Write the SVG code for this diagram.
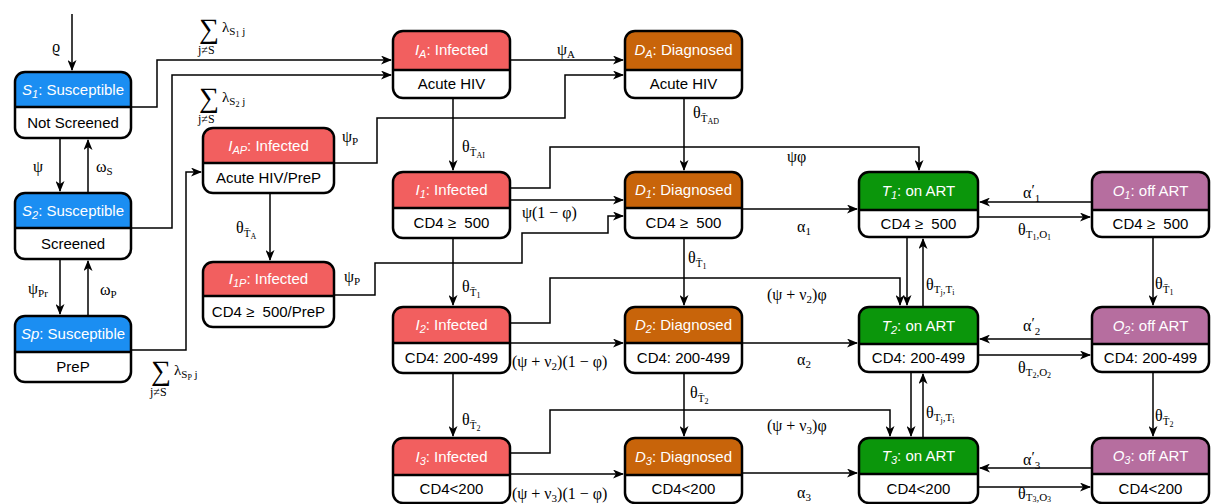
<svg xmlns="http://www.w3.org/2000/svg" width="1211" height="504" viewBox="0 0 1211 504">
<style>
.box{fill:none;stroke:#000;stroke-width:2.5}
.bg{fill:#fff}
.dv{stroke:#000;stroke-width:2.5}
.hS{fill:#1b8ef2}.hI{fill:#f25f5f}.hD{fill:#c8640a}.hT{fill:#0b960b}.hO{fill:#b66e9f}
.h{font-family:"Liberation Sans",Arial,sans-serif;font-size:15px;fill:#fff;text-anchor:middle}
.b{font-family:"Liberation Sans",Arial,sans-serif;font-size:15px;fill:#000;text-anchor:middle}
.i{font-style:italic}
.m{font-family:"Liberation Serif","Times New Roman",serif;font-size:16px;fill:#000}
.m.sig{font-size:28px}
.m.lam{font-size:15px}
.m.js{font-size:12px}
.sm{font-size:11px}
.pr{font-size:15px}
.xs{font-size:8px}
.c{fill:none;stroke:#000;stroke-width:1.5;marker-end:url(#ah)}
</style>
<defs>
<marker id="ah" markerUnits="userSpaceOnUse" markerWidth="11" markerHeight="9" refX="10" refY="4.5" orient="auto"><path d="M0,0 L11,4.5 L0,9 L3,4.5 Z" fill="#000"/></marker>
</defs>
<g id="connectors">
<path class="c" d="M72,14 V70"/>
<path class="c" d="M60,139 V191"/>
<path class="c" d="M88,192 V140"/>
<path class="c" d="M60,260 V314"/>
<path class="c" d="M88,315 V261"/>
<path class="c" d="M131,107 H157 V60 H391"/>
<path class="c" d="M131,228 H172 V75 H391"/>
<path class="c" d="M131,350 H186 V172 H201"/>
<path class="c" d="M510,60 H623"/>
<path class="c" d="M334,163 H377 V118 H565 V75 H623"/>
<path class="c" d="M453,98 V170"/>
<path class="c" d="M684,98 V170"/>
<path class="c" d="M270,193 V260"/>
<path class="c" d="M334,295 H375 V263 H522 V233 H608 V216 H623"/>
<path class="c" d="M510,200 H623"/>
<path class="c" d="M510,188 H550 V147 H919 V170"/>
<path class="c" d="M742,209 H857"/>
<path class="c" d="M1092,202 H980"/>
<path class="c" d="M978,217 H1090"/>
<path class="c" d="M1153,237 V305"/>
<path class="c" d="M907,237 V305"/>
<path class="c" d="M923,307 V239"/>
<path class="c" d="M453,238 V305"/>
<path class="c" d="M684,238 V305"/>
<path class="c" d="M510,323 H550 V278 H900 V305"/>
<path class="c" d="M510,343 H623"/>
<path class="c" d="M742,343 H857"/>
<path class="c" d="M1092,339 H980"/>
<path class="c" d="M978,355 H1090"/>
<path class="c" d="M1153,372 V436"/>
<path class="c" d="M911,372 V436"/>
<path class="c" d="M923,438 V374"/>
<path class="c" d="M453,373 V436"/>
<path class="c" d="M684,373 V436"/>
<path class="c" d="M510,453 H550 V410 H890 V436"/>
<path class="c" d="M510,474 H623"/>
<path class="c" d="M742,473 H857"/>
<path class="c" d="M1092,468 H980"/>
<path class="c" d="M978,487 H1090"/>
</g>
<g id="labels">
<text class="m" x="52" y="52">ϱ</text>
<text class="m" x="33" y="172">ψ</text>
<text class="m" x="96" y="172">ω<tspan class="sm" dy="3">S</tspan></text>
<text class="m" x="28" y="294">ψ<tspan class="sm" dy="3">Pr</tspan></text>
<text class="m" x="100" y="295">ω<tspan class="sm" dy="3">P</tspan></text>
<text class="m sig" x="199" y="38">∑</text>
<text class="m lam" x="222" y="32">λ<tspan class="sm" dy="3">S<tspan class="xs" dy="2">1</tspan><tspan dy="-2"> j</tspan></tspan></text>
<text class="m js" x="198" y="54">j≠S</text>
<text class="m sig" x="199" y="107">∑</text>
<text class="m lam" x="222" y="102">λ<tspan class="sm" dy="3">S<tspan class="xs" dy="2">2</tspan><tspan dy="-2"> j</tspan></tspan></text>
<text class="m js" x="198" y="123">j≠S</text>
<text class="m sig" x="151" y="380">∑</text>
<text class="m lam" x="174" y="375">λ<tspan class="sm" dy="3">S<tspan class="xs" dy="2">P</tspan><tspan dy="-2"> j</tspan></tspan></text>
<text class="m js" x="150" y="396">j≠S</text>
<text class="m" x="236" y="233">θ<tspan class="sm" dy="4">T̄<tspan class="xs" dy="2">A</tspan></tspan></text>
<text class="m" x="342" y="142">ψ<tspan class="sm" dy="3">P</tspan></text>
<text class="m" x="344" y="282">ψ<tspan class="sm" dy="3">P</tspan></text>
<text class="m" x="557" y="55">ψ<tspan class="sm" dy="3">A</tspan></text>
<text class="m" x="462" y="152">θ<tspan class="sm" dy="4">T̄<tspan class="xs" dy="2">AI</tspan></tspan></text>
<text class="m" x="693" y="118">θ<tspan class="sm" dy="4">T̄<tspan class="xs" dy="2">AD</tspan></tspan></text>
<text class="m" x="787" y="162">ψφ</text>
<text class="m" x="522" y="218">ψ(1 − φ)</text>
<text class="m" x="797" y="232">α<tspan class="sm" dy="3">1</tspan></text>
<text class="m" x="1023" y="198">α<tspan class="pr" dy="-3">′</tspan><tspan class="sm" dy="7">1</tspan></text>
<text class="m" x="1018" y="235">θ<tspan class="sm" dy="3">T<tspan class="xs" dy="2">1</tspan><tspan dy="-2">,O</tspan><tspan class="xs" dy="2">1</tspan></tspan></text>
<text class="m" x="1155" y="289">θ<tspan class="sm" dy="4">T̄<tspan class="xs" dy="2">1</tspan></tspan></text>
<text class="m" x="926" y="290">θ<tspan class="sm" dy="3">T<tspan class="xs" dy="2">j</tspan><tspan dy="-2">,T</tspan><tspan class="xs" dy="2">i</tspan></tspan></text>
<text class="m" x="767" y="300">(ψ + ν<tspan class="sm" dy="3">2</tspan><tspan dy="-3">)φ</tspan></text>
<text class="m" x="462" y="292">θ<tspan class="sm" dy="4">T̄<tspan class="xs" dy="2">1</tspan></tspan></text>
<text class="m" x="688" y="263">θ<tspan class="sm" dy="4">T̄<tspan class="xs" dy="2">1</tspan></tspan></text>
<text class="m" x="512" y="367">(ψ + ν<tspan class="sm" dy="3">2</tspan><tspan dy="-3">)(1 − φ)</tspan></text>
<text class="m" x="797" y="365">α<tspan class="sm" dy="3">2</tspan></text>
<text class="m" x="1023" y="331">α<tspan class="pr" dy="-3">′</tspan><tspan class="sm" dy="7">2</tspan></text>
<text class="m" x="1018" y="373">θ<tspan class="sm" dy="3">T<tspan class="xs" dy="2">2</tspan><tspan dy="-2">,O</tspan><tspan class="xs" dy="2">2</tspan></tspan></text>
<text class="m" x="1155" y="421">θ<tspan class="sm" dy="4">T̄<tspan class="xs" dy="2">2</tspan></tspan></text>
<text class="m" x="926" y="418">θ<tspan class="sm" dy="3">T<tspan class="xs" dy="2">j</tspan><tspan dy="-2">,T</tspan><tspan class="xs" dy="2">i</tspan></tspan></text>
<text class="m" x="767" y="431">(ψ + ν<tspan class="sm" dy="3">3</tspan><tspan dy="-3">)φ</tspan></text>
<text class="m" x="462" y="425">θ<tspan class="sm" dy="4">T̄<tspan class="xs" dy="2">2</tspan></tspan></text>
<text class="m" x="690" y="398">θ<tspan class="sm" dy="4">T̄<tspan class="xs" dy="2">2</tspan></tspan></text>
<text class="m" x="512" y="499">(ψ + ν<tspan class="sm" dy="3">3</tspan><tspan dy="-3">)(1 − φ)</tspan></text>
<text class="m" x="797" y="498">α<tspan class="sm" dy="3">3</tspan></text>
<text class="m" x="1023" y="465">α<tspan class="pr" dy="-3">′</tspan><tspan class="sm" dy="7">3</tspan></text>
<text class="m" x="1018" y="499">θ<tspan class="sm" dy="2">T<tspan class="xs" dy="1">3</tspan><tspan dy="-1">,O</tspan><tspan class="xs" dy="1">3</tspan></tspan></text>
</g>
<g id="S1">
<rect class="bg" x="15" y="72" width="116" height="66" rx="10"/>
<path class="hS" d="M15,107 V82 Q15,72 25,72 H121 Q131,72 131,82 V107 Z"/>
<line class="dv" x1="15" y1="107" x2="131" y2="107"/>
<rect class="box" x="15" y="72" width="116" height="66" rx="10"/>
<text class="h" x="73" y="95"><tspan class="i">S<tspan class="sm" dy="3">1</tspan></tspan><tspan dy="-3">: Susceptible</tspan></text>
<text class="b" x="73" y="128">Not Screened</text>
</g>
<g id="S2">
<rect class="bg" x="15" y="193" width="116" height="66" rx="10"/>
<path class="hS" d="M15,228 V203 Q15,193 25,193 H121 Q131,193 131,203 V228 Z"/>
<line class="dv" x1="15" y1="228" x2="131" y2="228"/>
<rect class="box" x="15" y="193" width="116" height="66" rx="10"/>
<text class="h" x="73" y="216"><tspan class="i">S<tspan class="sm" dy="3">2</tspan></tspan><tspan dy="-3">: Susceptible</tspan></text>
<text class="b" x="73" y="249">Screened</text>
</g>
<g id="Sp">
<rect class="bg" x="15" y="316" width="116" height="66" rx="10"/>
<path class="hS" d="M15,352 V326 Q15,316 25,316 H121 Q131,316 131,326 V352 Z"/>
<line class="dv" x1="15" y1="352" x2="131" y2="352"/>
<rect class="box" x="15" y="316" width="116" height="66" rx="10"/>
<text class="h" x="73" y="339"><tspan class="i">Sp</tspan>: Susceptible</text>
<text class="b" x="73" y="372">PreP</text>
</g>
<g id="IA">
<rect class="bg" x="393" y="31" width="117" height="67" rx="10"/>
<path class="hI" d="M393,70 V41 Q393,31 403,31 H500 Q510,31 510,41 V70 Z"/>
<line class="dv" x1="393" y1="70" x2="510" y2="70"/>
<rect class="box" x="393" y="31" width="117" height="67" rx="10"/>
<text class="h" x="451.5" y="55"><tspan class="i">I<tspan class="sm" dy="3">A</tspan></tspan><tspan dy="-3">: Infected</tspan></text>
<text class="b" x="451.5" y="89">Acute HIV</text>
</g>
<g id="DA">
<rect class="bg" x="625" y="31" width="117" height="67" rx="10"/>
<path class="hD" d="M625,70 V41 Q625,31 635,31 H732 Q742,31 742,41 V70 Z"/>
<line class="dv" x1="625" y1="70" x2="742" y2="70"/>
<rect class="box" x="625" y="31" width="117" height="67" rx="10"/>
<text class="h" x="683.5" y="55"><tspan class="i">D<tspan class="sm" dy="3">A</tspan></tspan><tspan dy="-3">: Diagnosed</tspan></text>
<text class="b" x="683.5" y="89">Acute HIV</text>
</g>
<g id="IAP">
<rect class="bg" x="203" y="128" width="131" height="65" rx="10"/>
<path class="hI" d="M203,163 V138 Q203,128 213,128 H324 Q334,128 334,138 V163 Z"/>
<line class="dv" x1="203" y1="163" x2="334" y2="163"/>
<rect class="box" x="203" y="128" width="131" height="65" rx="10"/>
<text class="h" x="268.5" y="151"><tspan class="i">I<tspan class="sm" dy="3">AP</tspan></tspan><tspan dy="-3">: Infected</tspan></text>
<text class="b" x="268.5" y="183">Acute HIV/PreP</text>
</g>
<g id="I1P">
<rect class="bg" x="203" y="262" width="131" height="65" rx="10"/>
<path class="hI" d="M203,296 V272 Q203,262 213,262 H324 Q334,262 334,272 V296 Z"/>
<line class="dv" x1="203" y1="296" x2="334" y2="296"/>
<rect class="box" x="203" y="262" width="131" height="65" rx="10"/>
<text class="h" x="268.5" y="284"><tspan class="i">I<tspan class="sm" dy="3">1P</tspan></tspan><tspan dy="-3">: Infected</tspan></text>
<text class="b" x="268.5" y="317">CD4 ≥&#160; 500/PreP</text>
</g>
<g id="I1">
<rect class="bg" x="393" y="172" width="117" height="66" rx="10"/>
<path class="hI" d="M393,208 V182 Q393,172 403,172 H500 Q510,172 510,182 V208 Z"/>
<line class="dv" x1="393" y1="208" x2="510" y2="208"/>
<rect class="box" x="393" y="172" width="117" height="66" rx="10"/>
<text class="h" x="451.5" y="195"><tspan class="i">I<tspan class="sm" dy="3">1</tspan></tspan><tspan dy="-3">: Infected</tspan></text>
<text class="b" x="451.5" y="228">CD4 ≥&#160; 500</text>
</g>
<g id="D1">
<rect class="bg" x="625" y="172" width="117" height="66" rx="10"/>
<path class="hD" d="M625,208 V182 Q625,172 635,172 H732 Q742,172 742,182 V208 Z"/>
<line class="dv" x1="625" y1="208" x2="742" y2="208"/>
<rect class="box" x="625" y="172" width="117" height="66" rx="10"/>
<text class="h" x="683.5" y="195"><tspan class="i">D<tspan class="sm" dy="3">1</tspan></tspan><tspan dy="-3">: Diagnosed</tspan></text>
<text class="b" x="683.5" y="228">CD4 ≥&#160; 500</text>
</g>
<g id="T1">
<rect class="bg" x="859" y="172" width="119" height="65" rx="10"/>
<path class="hT" d="M859,210 V182 Q859,172 869,172 H968 Q978,172 978,182 V210 Z"/>
<line class="dv" x1="859" y1="210" x2="978" y2="210"/>
<rect class="box" x="859" y="172" width="119" height="65" rx="10"/>
<text class="h" x="918.5" y="196"><tspan class="i">T<tspan class="sm" dy="3">1</tspan></tspan><tspan dy="-3">: on ART</tspan></text>
<text class="b" x="918.5" y="229">CD4 ≥&#160; 500</text>
</g>
<g id="O1">
<rect class="bg" x="1092" y="172" width="117" height="65" rx="10"/>
<path class="hO" d="M1092,210 V182 Q1092,172 1102,172 H1199 Q1209,172 1209,182 V210 Z"/>
<line class="dv" x1="1092" y1="210" x2="1209" y2="210"/>
<rect class="box" x="1092" y="172" width="117" height="65" rx="10"/>
<text class="h" x="1150.5" y="196"><tspan class="i">O<tspan class="sm" dy="3">1</tspan></tspan><tspan dy="-3">: off ART</tspan></text>
<text class="b" x="1150.5" y="229">CD4 ≥&#160; 500</text>
</g>
<g id="I2">
<rect class="bg" x="393" y="307" width="117" height="66" rx="10"/>
<path class="hI" d="M393,343 V317 Q393,307 403,307 H500 Q510,307 510,317 V343 Z"/>
<line class="dv" x1="393" y1="343" x2="510" y2="343"/>
<rect class="box" x="393" y="307" width="117" height="66" rx="10"/>
<text class="h" x="451.5" y="330"><tspan class="i">I<tspan class="sm" dy="3">2</tspan></tspan><tspan dy="-3">: Infected</tspan></text>
<text class="b" x="451.5" y="363">CD4: 200-499</text>
</g>
<g id="D2">
<rect class="bg" x="625" y="307" width="117" height="66" rx="10"/>
<path class="hD" d="M625,343 V317 Q625,307 635,307 H732 Q742,307 742,317 V343 Z"/>
<line class="dv" x1="625" y1="343" x2="742" y2="343"/>
<rect class="box" x="625" y="307" width="117" height="66" rx="10"/>
<text class="h" x="683.5" y="330"><tspan class="i">D<tspan class="sm" dy="3">2</tspan></tspan><tspan dy="-3">: Diagnosed</tspan></text>
<text class="b" x="683.5" y="363">CD4: 200-499</text>
</g>
<g id="T2">
<rect class="bg" x="859" y="307" width="119" height="65" rx="10"/>
<path class="hT" d="M859,344 V317 Q859,307 869,307 H968 Q978,307 978,317 V344 Z"/>
<line class="dv" x1="859" y1="344" x2="978" y2="344"/>
<rect class="box" x="859" y="307" width="119" height="65" rx="10"/>
<text class="h" x="918.5" y="331"><tspan class="i">T<tspan class="sm" dy="3">2</tspan></tspan><tspan dy="-3">: on ART</tspan></text>
<text class="b" x="918.5" y="363">CD4: 200-499</text>
</g>
<g id="O2">
<rect class="bg" x="1092" y="307" width="117" height="65" rx="10"/>
<path class="hO" d="M1092,344 V317 Q1092,307 1102,307 H1199 Q1209,307 1209,317 V344 Z"/>
<line class="dv" x1="1092" y1="344" x2="1209" y2="344"/>
<rect class="box" x="1092" y="307" width="117" height="65" rx="10"/>
<text class="h" x="1150.5" y="331"><tspan class="i">O<tspan class="sm" dy="3">2</tspan></tspan><tspan dy="-3">: off ART</tspan></text>
<text class="b" x="1150.5" y="363">CD4: 200-499</text>
</g>
<g id="I3">
<rect class="bg" x="393" y="438" width="117" height="65" rx="10"/>
<path class="hI" d="M393,475 V448 Q393,438 403,438 H500 Q510,438 510,448 V475 Z"/>
<line class="dv" x1="393" y1="475" x2="510" y2="475"/>
<rect class="box" x="393" y="438" width="117" height="65" rx="10"/>
<text class="h" x="451.5" y="462"><tspan class="i">I<tspan class="sm" dy="3">3</tspan></tspan><tspan dy="-3">: Infected</tspan></text>
<text class="b" x="451.5" y="494">CD4&lt;200</text>
</g>
<g id="D3">
<rect class="bg" x="625" y="438" width="117" height="65" rx="10"/>
<path class="hD" d="M625,475 V448 Q625,438 635,438 H732 Q742,438 742,448 V475 Z"/>
<line class="dv" x1="625" y1="475" x2="742" y2="475"/>
<rect class="box" x="625" y="438" width="117" height="65" rx="10"/>
<text class="h" x="683.5" y="462"><tspan class="i">D<tspan class="sm" dy="3">3</tspan></tspan><tspan dy="-3">: Diagnosed</tspan></text>
<text class="b" x="683.5" y="494">CD4&lt;200</text>
</g>
<g id="T3">
<rect class="bg" x="859" y="438" width="119" height="65" rx="10"/>
<path class="hT" d="M859,474 V448 Q859,438 869,438 H968 Q978,438 978,448 V474 Z"/>
<line class="dv" x1="859" y1="474" x2="978" y2="474"/>
<rect class="box" x="859" y="438" width="119" height="65" rx="10"/>
<text class="h" x="918.5" y="461"><tspan class="i">T<tspan class="sm" dy="3">3</tspan></tspan><tspan dy="-3">: on ART</tspan></text>
<text class="b" x="918.5" y="494">CD4&lt;200</text>
</g>
<g id="O3">
<rect class="bg" x="1092" y="438" width="117" height="65" rx="10"/>
<path class="hO" d="M1092,474 V448 Q1092,438 1102,438 H1199 Q1209,438 1209,448 V474 Z"/>
<line class="dv" x1="1092" y1="474" x2="1209" y2="474"/>
<rect class="box" x="1092" y="438" width="117" height="65" rx="10"/>
<text class="h" x="1150.5" y="461"><tspan class="i">O<tspan class="sm" dy="3">3</tspan></tspan><tspan dy="-3">: off ART</tspan></text>
<text class="b" x="1150.5" y="494">CD4&lt;200</text>
</g>
</svg>
